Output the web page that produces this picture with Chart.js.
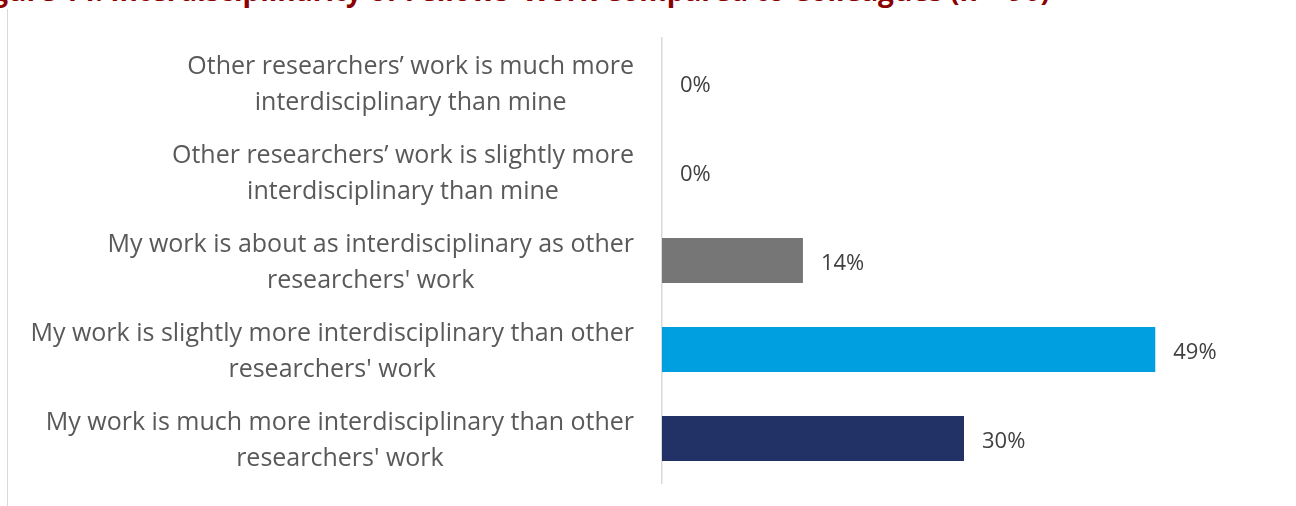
<!DOCTYPE html>
<html>
<head>
<meta charset="utf-8">
<script src="https://cdn.jsdelivr.net/npm/chart.js@4/dist/chart.umd.min.js"></script>
<style>
  html, body { margin: 0; padding: 0; background: #fff; }
  #wrap { position: relative; width: 1296px; height: 506px; overflow: hidden; }
  #frame { position: absolute; left: 7px; top: 9px; bottom: -2px; border-left: 1px solid #d9d9d9; }
  #title {
    position: absolute; right: 246px; top: -29px; white-space: nowrap;
    font: bold 28px "Open Sans", sans-serif; color: #8b0000;
  }
  canvas { position: absolute; left: 0; top: 0; }
</style>
</head>
<body>
<div id="wrap">
  <div id="frame"></div>
  <div id="title">Figure 14: Interdisciplinarity of Fellows’ Work Compared to Colleagues (n = 90)</div>
  <canvas id="interdiscChart" width="1296" height="506"></canvas>
</div>
<script>
// response options, each split into the two lines shown beside the axis
const categories = [
  ['Other researchers’ work is much more', 'interdisciplinary than mine'],
  ['Other researchers’ work is slightly more', 'interdisciplinary than mine'],
  ['My work is about as interdisciplinary as other', "researchers' work"],
  ['My work is slightly more interdisciplinary than other', "researchers' work"],
  ['My work is much more interdisciplinary than other', "researchers' work"]
];
const shares = [0, 0, 14, 49, 30];
const barColors = ['#767676', '#767676', '#767676', '#009fdf', '#223266'];

// category labels: block right-aligned to the axis, lines centred within the block
const wrappedLabels = {
  id: 'wrappedLabels',
  afterDraw(chart) {
    const y = chart.scales.y;
    const ctx = chart.ctx;
    ctx.save();
    ctx.font = '25px "Open Sans", sans-serif';
    ctx.fillStyle = '#595959';
    ctx.textAlign = 'center';
    ctx.textBaseline = 'middle';
    categories.forEach((lines, i) => {
      const cy = y.getPixelForTick(i) + 2;
      const widest = Math.max(...lines.map(l => ctx.measureText(l).width));
      const cx = y.right - 28 - widest / 2;
      lines.forEach((line, j) => {
        ctx.fillText(line, cx, cy + (j - (lines.length - 1) / 2) * 36);
      });
    });
    ctx.restore();
  }
};

// value labels just past the end of each bar
const valueLabels = {
  id: 'valueLabels',
  afterDatasetsDraw(chart) {
    const ctx = chart.ctx;
    const meta = chart.getDatasetMeta(0);
    ctx.save();
    ctx.font = '22px "Open Sans", sans-serif';
    ctx.fillStyle = '#404040';
    ctx.textAlign = 'left';
    ctx.textBaseline = 'middle';
    meta.data.forEach((bar, i) => {
      ctx.fillText(shares[i] + '%', bar.x + 18, bar.y + 3);
    });
    ctx.restore();
  }
};

new Chart(document.getElementById('interdiscChart'), {
  type: 'bar',
  data: {
    labels: categories,
    datasets: [{
      data: shares,
      backgroundColor: barColors,
      borderWidth: 0,
      categoryPercentage: 1,
      barPercentage: 0.505
    }]
  },
  options: {
    indexAxis: 'y',
    responsive: false,
    animation: false,
    layout: { padding: { top: 38, bottom: 23, right: 30, left: 0 } },
    plugins: {
      legend: { display: false },
      tooltip: { enabled: false }
    },
    scales: {
      x: {
        display: false,
        min: 0,
        max: 60
      },
      y: {
        grid: { display: false, drawTicks: false },
        border: { display: true, color: '#d9d9d9', width: 1.5 },
        ticks: { display: false },
        afterFit(scale) { scale.width = 662; }
      }
    }
  },
  plugins: [wrappedLabels, valueLabels]
});
</script>
</body>
</html>
